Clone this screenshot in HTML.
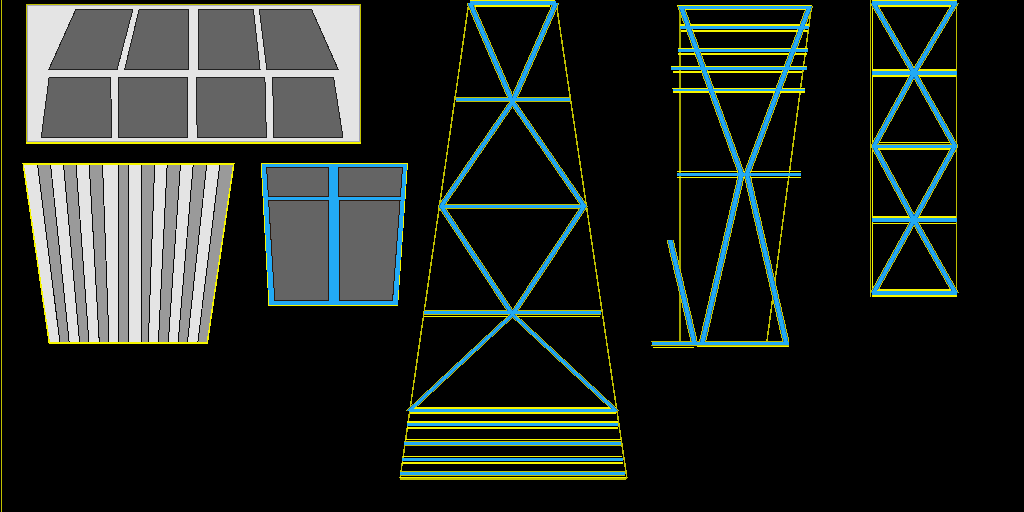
<!DOCTYPE html>
<html><head><meta charset="utf-8"><title>UV layout</title>
<style>html,body{margin:0;padding:0;background:#000;width:1024px;height:512px;overflow:hidden;font-family:"Liberation Sans",sans-serif}svg{display:block}</style>
</head><body>
<svg width="1024" height="512" viewBox="0 0 1024 512" shape-rendering="crispEdges">
<rect width="1024" height="512" fill="#000"/>
<rect x="1" y="0" width="1" height="512" fill="#c0c000"/>
<rect x="26" y="4" width="335" height="140" fill="#c0c000"/>
<rect x="26" y="142" width="335" height="2" fill="#f5f500"/>
<rect x="27" y="5" width="333" height="137" fill="#a8a8c0"/>
<rect x="28" y="6" width="331" height="135" fill="#e4e4e4"/>
<polygon points="76,9 133,9 117.25,69 49,69" fill="#646464" stroke="#202020" stroke-width="1" />
<polygon points="139.25,9 188.5,9 188.5,69 124.75,69" fill="#646464" stroke="#202020" stroke-width="1" />
<polygon points="198.5,9 253.3,9 260,69 198.5,69" fill="#646464" stroke="#202020" stroke-width="1" />
<polygon points="259.25,9 311.4,9 338,69 266.75,69" fill="#646464" stroke="#202020" stroke-width="1" />
<polygon points="49.2,77 110.7,77 111.6,137 41.3,137" fill="#646464" stroke="#202020" stroke-width="1" />
<polygon points="118.2,77 187,77 187,137 119,137" fill="#646464" stroke="#202020" stroke-width="1" />
<polygon points="196.3,77 264.9,77 266.4,137 197.2,137" fill="#646464" stroke="#202020" stroke-width="1" />
<polygon points="272.6,77 333.5,77 342.9,137 273.9,137" fill="#646464" stroke="#202020" stroke-width="1" />
<polygon points="23.5,164 233.5,164 207.1,342.5 49.5,342.5" fill="none" stroke="#f5f500" stroke-width="2" />
<polygon points="23.5,164 37.5,164 59.9,342.5 49.5,342.5" fill="#e4e4e4" stroke="none" stroke-width="1" />
<polygon points="37.5,164 50.5,164 69.2,342.5 59.9,342.5" fill="#9a9a9a" stroke="none" stroke-width="1" />
<polygon points="50.5,164 63.5,164 79.6,342.5 69.2,342.5" fill="#e4e4e4" stroke="none" stroke-width="1" />
<polygon points="63.5,164 76,164 88.9,342.5 79.6,342.5" fill="#9a9a9a" stroke="none" stroke-width="1" />
<polygon points="76,164 89.2,164 99.3,342.5 88.9,342.5" fill="#e4e4e4" stroke="none" stroke-width="1" />
<polygon points="89.2,164 102.5,164 109,342.5 99.3,342.5" fill="#9a9a9a" stroke="none" stroke-width="1" />
<polygon points="102.5,164 118.2,164 118.3,342.5 109,342.5" fill="#e4e4e4" stroke="none" stroke-width="1" />
<polygon points="118.2,164 128.7,164 128.7,342.5 118.3,342.5" fill="#9a9a9a" stroke="none" stroke-width="1" />
<polygon points="128.7,164 141.9,164 142,342.5 128.7,342.5" fill="#e4e4e4" stroke="none" stroke-width="1" />
<polygon points="141.9,164 154.7,164 148.3,342.5 142,342.5" fill="#9a9a9a" stroke="none" stroke-width="1" />
<polygon points="154.7,164 167.2,164 158.4,342.5 148.3,342.5" fill="#e4e4e4" stroke="none" stroke-width="1" />
<polygon points="167.2,164 180.5,164 168.3,342.5 158.4,342.5" fill="#9a9a9a" stroke="none" stroke-width="1" />
<polygon points="180.5,164 193.25,164 178.1,342.5 168.3,342.5" fill="#e4e4e4" stroke="none" stroke-width="1" />
<polygon points="193.25,164 206.75,164 187.4,342.5 178.1,342.5" fill="#9a9a9a" stroke="none" stroke-width="1" />
<polygon points="206.75,164 219.9,164 197.8,342.5 187.4,342.5" fill="#e4e4e4" stroke="none" stroke-width="1" />
<polygon points="219.9,164 233.5,164 207.1,342.5 197.8,342.5" fill="#9a9a9a" stroke="none" stroke-width="1" />
<line x1="37.5" y1="164" x2="59.9" y2="342.5" stroke="#080808" stroke-width="1" />
<line x1="50.5" y1="164" x2="69.2" y2="342.5" stroke="#080808" stroke-width="1" />
<line x1="63.5" y1="164" x2="79.6" y2="342.5" stroke="#080808" stroke-width="1" />
<line x1="76" y1="164" x2="88.9" y2="342.5" stroke="#080808" stroke-width="1" />
<line x1="89.2" y1="164" x2="99.3" y2="342.5" stroke="#080808" stroke-width="1" />
<line x1="102.5" y1="164" x2="109" y2="342.5" stroke="#080808" stroke-width="1" />
<line x1="118.2" y1="164" x2="118.3" y2="342.5" stroke="#080808" stroke-width="1" />
<line x1="128.7" y1="164" x2="128.7" y2="342.5" stroke="#080808" stroke-width="1" />
<line x1="141.9" y1="164" x2="142" y2="342.5" stroke="#080808" stroke-width="1" />
<line x1="154.7" y1="164" x2="148.3" y2="342.5" stroke="#080808" stroke-width="1" />
<line x1="167.2" y1="164" x2="158.4" y2="342.5" stroke="#080808" stroke-width="1" />
<line x1="180.5" y1="164" x2="168.3" y2="342.5" stroke="#080808" stroke-width="1" />
<line x1="193.25" y1="164" x2="178.1" y2="342.5" stroke="#080808" stroke-width="1" />
<line x1="206.75" y1="164" x2="187.4" y2="342.5" stroke="#080808" stroke-width="1" />
<line x1="219.9" y1="164" x2="197.8" y2="342.5" stroke="#080808" stroke-width="1" />
<polygon points="23.5,164 233.5,164 207.1,342.5 49.5,342.5" fill="none" stroke="#f5f500" stroke-width="1" />
<polygon points="260.7,163 408,163 398.1,306 268.5,306" fill="#f5f500" stroke="none" stroke-width="1" />
<polygon points="261.7,164 407,164 397.5,305 269.3,305" fill="#22aaf5" stroke="none" stroke-width="1" />
<polygon points="266.6,167.7 328.7,167.7 328.7,196.3 268.4,196.3" fill="#646464" stroke="#2a1a10" stroke-width="1" />
<polygon points="268.6,200.5 328.7,200.5 328.7,300 274.75,300" fill="#646464" stroke="#2a1a10" stroke-width="1" />
<polygon points="338.75,167.6 402.5,167.6 400.4,196.3 338.75,196.3" fill="#646464" stroke="#2a1a10" stroke-width="1" />
<polygon points="339,200.2 400.1,200.2 392.6,300 339,300" fill="#646464" stroke="#2a1a10" stroke-width="1" />
<line x1="468.5" y1="5" x2="400" y2="478.5" stroke="#c0c000" stroke-width="1.5" />
<line x1="556.5" y1="5" x2="627" y2="478.5" stroke="#c0c000" stroke-width="1.5" />
<rect x="679" y="10" width="2" height="331" fill="#a8a800"/>
<line x1="811" y1="10" x2="767" y2="341" stroke="#c0c000" stroke-width="1.5" />
<rect x="870" y="0" width="1" height="297" fill="#c0c000"/>
<rect x="872" y="0" width="1" height="297" fill="#f5f500"/>
<rect x="956" y="0" width="1" height="297" fill="#c0c000"/>
<polygon points="466.4,3 473.6,3 516.1,102 508.9,102" fill="#c8c800" stroke="none" stroke-width="1" />
<polygon points="508.9,102 516.1,102 559.6,3 552.4,3" fill="#c8c800" stroke="none" stroke-width="1" />
<polygon points="508.9,102 516.1,102 444.8,206.2 437.6,206.2" fill="#c8c800" stroke="none" stroke-width="1" />
<polygon points="437.6,206.2 444.8,206.2 516.2,314.5 509.0,314.5" fill="#c8c800" stroke="none" stroke-width="1" />
<polygon points="509.0,314.5 516.2,314.5 587.8,206.2 580.6,206.2" fill="#c8c800" stroke="none" stroke-width="1" />
<polygon points="580.6,206.2 587.8,206.2 516.1,102 508.9,102" fill="#c8c800" stroke="none" stroke-width="1" />
<polygon points="406.0,410.5 413.2,410.5 516.2,314.5 509.0,314.5" fill="#c8c800" stroke="none" stroke-width="1" />
<polygon points="509.0,314.5 516.2,314.5 619.3,410.5 612.1,410.5" fill="#c8c800" stroke="none" stroke-width="1" />
<polygon points="677.2,6 684.4,6 745.2,174 738.0,174" fill="#c8c800" stroke="none" stroke-width="1" />
<polygon points="738.0,174 745.2,174 706.1,342 698.9,342" fill="#c8c800" stroke="none" stroke-width="1" />
<polygon points="806.2,6 813.4,6 750.5,174 743.3,174" fill="#c8c800" stroke="none" stroke-width="1" />
<polygon points="743.3,174 750.5,174 789.6,342 782.4,342" fill="#c8c800" stroke="none" stroke-width="1" />
<polygon points="666.4,239.5 673.6,239.5 697.85,342 690.65,342" fill="#c8c800" stroke="none" stroke-width="1" />
<polygon points="869.9,3 877.1,3 917.6,73 910.4,73" fill="#c8c800" stroke="none" stroke-width="1" />
<polygon points="910.4,73 917.6,73 877.6,146 870.4,146" fill="#c8c800" stroke="none" stroke-width="1" />
<polygon points="870.4,146 877.6,146 917.6,220 910.4,220" fill="#c8c800" stroke="none" stroke-width="1" />
<polygon points="910.4,220 917.6,220 877.1,293 869.9,293" fill="#c8c800" stroke="none" stroke-width="1" />
<polygon points="951.9,3 959.1,3 917.6,73 910.4,73" fill="#c8c800" stroke="none" stroke-width="1" />
<polygon points="910.4,73 917.6,73 958.6,146 951.4,146" fill="#c8c800" stroke="none" stroke-width="1" />
<polygon points="951.4,146 958.6,146 917.6,220 910.4,220" fill="#c8c800" stroke="none" stroke-width="1" />
<polygon points="910.4,220 917.6,220 959.1,293 951.9,293" fill="#c8c800" stroke="none" stroke-width="1" />
<rect x="470" y="0" width="85" height="1" fill="#f5f500"/>
<rect x="475" y="5" width="75" height="2" fill="#f5f500"/>
<rect x="455.6" y="97" width="114.1" height="1" fill="#c0c000"/>
<rect x="455.6" y="101" width="114.1" height="1" fill="#c0c000"/>
<rect x="441.2" y="204" width="143.0" height="1" fill="#c0c000"/>
<rect x="441.2" y="208" width="143.0" height="1" fill="#c0c000"/>
<rect x="423.8" y="310" width="177.2" height="1" fill="#c0c000"/>
<rect x="423.8" y="314" width="177.2" height="1" fill="#c0c000"/>
<rect x="424" y="316" width="176" height="1" fill="#f5f500"/>
<rect x="409.6" y="407" width="206.1" height="2" fill="#f5f500"/>
<rect x="409.6" y="412" width="206.1" height="2" fill="#f5f500"/>
<rect x="406.8" y="421" width="211.6" height="2" fill="#f5f500"/>
<rect x="406.8" y="427" width="211.6" height="2" fill="#f5f500"/>
<rect x="404.5" y="439" width="216.0" height="1" fill="#f5f500"/>
<rect x="404" y="441" width="217.2" height="1" fill="#c0c000"/>
<rect x="404" y="445" width="217.2" height="1" fill="#c0c000"/>
<rect x="402.5" y="456" width="219.5" height="1" fill="#f5f500"/>
<rect x="402" y="462" width="220.5" height="2" fill="#f5f500"/>
<rect x="400.2" y="471" width="225.1" height="1" fill="#c0c000"/>
<rect x="400.2" y="475" width="225.1" height="1" fill="#c0c000"/>
<rect x="400" y="477" width="226" height="1" fill="#f5f500"/>
<rect x="400" y="478" width="226" height="2" fill="#c0c000"/>
<rect x="677.4" y="5" width="134.4" height="1" fill="#f5f500"/>
<rect x="679" y="9" width="131" height="1" fill="#f5f500"/>
<rect x="680" y="24" width="129" height="2" fill="#f5f500"/>
<rect x="681" y="30" width="127" height="2" fill="#f5f500"/>
<rect x="677.5" y="48" width="130.5" height="1" fill="#f5f500"/>
<rect x="678" y="53" width="129" height="2" fill="#f5f500"/>
<rect x="671.3" y="66" width="135.6" height="1" fill="#f5f500"/>
<rect x="672.5" y="71" width="129.5" height="2" fill="#f5f500"/>
<rect x="672" y="88" width="133.3" height="1" fill="#f5f500"/>
<rect x="673" y="91" width="132" height="2" fill="#f5f500"/>
<rect x="676.9" y="171" width="123.7" height="1" fill="#f5f500"/>
<rect x="676.9" y="177" width="123.7" height="1" fill="#f5f500"/>
<rect x="651.1" y="341" width="138.3" height="1" fill="#c0c000"/>
<rect x="651.1" y="345" width="138.3" height="1" fill="#c0c000"/>
<rect x="653" y="347" width="41" height="1" fill="#f5f500"/>
<rect x="697" y="346" width="92" height="1" fill="#f5f500"/>
<rect x="872" y="0" width="85" height="1" fill="#f5f500"/>
<rect x="877" y="5" width="75" height="2" fill="#f5f500"/>
<rect x="873" y="69" width="83" height="2" fill="#f5f500"/>
<rect x="873" y="75" width="83" height="2" fill="#f5f500"/>
<rect x="875" y="142" width="79" height="1" fill="#f5f500"/>
<rect x="873" y="144" width="83" height="1" fill="#c0c000"/>
<rect x="875" y="148" width="79" height="2" fill="#f5f500"/>
<rect x="873" y="216" width="83" height="2" fill="#f5f500"/>
<rect x="873" y="223" width="83" height="1" fill="#f5f500"/>
<rect x="872" y="289" width="85" height="2" fill="#f5f500"/>
<rect x="872" y="295" width="85" height="2" fill="#f5f500"/>
<polygon points="467.4,3 472.6,3 515.1,102 509.9,102" fill="#1270c0" stroke="none" stroke-width="1" />
<polygon points="509.9,102 515.1,102 558.6,3 553.4,3" fill="#1270c0" stroke="none" stroke-width="1" />
<polygon points="509.9,102 515.1,102 443.8,206.2 438.6,206.2" fill="#1270c0" stroke="none" stroke-width="1" />
<polygon points="438.6,206.2 443.8,206.2 515.2,314.5 510.0,314.5" fill="#1270c0" stroke="none" stroke-width="1" />
<polygon points="510.0,314.5 515.2,314.5 586.8,206.2 581.6,206.2" fill="#1270c0" stroke="none" stroke-width="1" />
<polygon points="581.6,206.2 586.8,206.2 515.1,102 509.9,102" fill="#1270c0" stroke="none" stroke-width="1" />
<polygon points="407.0,410.5 412.2,410.5 515.2,314.5 510.0,314.5" fill="#1270c0" stroke="none" stroke-width="1" />
<polygon points="510.0,314.5 515.2,314.5 618.3,410.5 613.1,410.5" fill="#1270c0" stroke="none" stroke-width="1" />
<polygon points="678.2,6 683.4,6 744.2,174 739.0,174" fill="#1270c0" stroke="none" stroke-width="1" />
<polygon points="739.0,174 744.2,174 705.1,342 699.9,342" fill="#1270c0" stroke="none" stroke-width="1" />
<polygon points="807.2,6 812.4,6 749.5,174 744.3,174" fill="#1270c0" stroke="none" stroke-width="1" />
<polygon points="744.3,174 749.5,174 788.6,342 783.4,342" fill="#1270c0" stroke="none" stroke-width="1" />
<polygon points="667.4,239.5 672.6,239.5 696.85,342 691.65,342" fill="#1270c0" stroke="none" stroke-width="1" />
<polygon points="870.9,3 876.1,3 916.6,73 911.4,73" fill="#1270c0" stroke="none" stroke-width="1" />
<polygon points="911.4,73 916.6,73 876.6,146 871.4,146" fill="#1270c0" stroke="none" stroke-width="1" />
<polygon points="871.4,146 876.6,146 916.6,220 911.4,220" fill="#1270c0" stroke="none" stroke-width="1" />
<polygon points="911.4,220 916.6,220 876.1,293 870.9,293" fill="#1270c0" stroke="none" stroke-width="1" />
<polygon points="952.9,3 958.1,3 916.6,73 911.4,73" fill="#1270c0" stroke="none" stroke-width="1" />
<polygon points="911.4,73 916.6,73 957.6,146 952.4,146" fill="#1270c0" stroke="none" stroke-width="1" />
<polygon points="952.4,146 957.6,146 916.6,220 911.4,220" fill="#1270c0" stroke="none" stroke-width="1" />
<polygon points="911.4,220 916.6,220 958.1,293 952.9,293" fill="#1270c0" stroke="none" stroke-width="1" />
<polygon points="468.2,3 471.8,3 514.3,102 510.7,102" fill="#22aaf5" stroke="none" stroke-width="1" />
<polygon points="510.7,102 514.3,102 557.8,3 554.2,3" fill="#22aaf5" stroke="none" stroke-width="1" />
<polygon points="510.7,102 514.3,102 443.0,206.2 439.4,206.2" fill="#22aaf5" stroke="none" stroke-width="1" />
<polygon points="439.4,206.2 443.0,206.2 514.4,314.5 510.8,314.5" fill="#22aaf5" stroke="none" stroke-width="1" />
<polygon points="510.8,314.5 514.4,314.5 586.0,206.2 582.4,206.2" fill="#22aaf5" stroke="none" stroke-width="1" />
<polygon points="582.4,206.2 586.0,206.2 514.3,102 510.7,102" fill="#22aaf5" stroke="none" stroke-width="1" />
<polygon points="407.8,410.5 411.4,410.5 514.4,314.5 510.8,314.5" fill="#22aaf5" stroke="none" stroke-width="1" />
<polygon points="510.8,314.5 514.4,314.5 617.5,410.5 613.9,410.5" fill="#22aaf5" stroke="none" stroke-width="1" />
<polygon points="679.0,6 682.6,6 743.4,174 739.8,174" fill="#22aaf5" stroke="none" stroke-width="1" />
<polygon points="739.8,174 743.4,174 704.3,342 700.7,342" fill="#22aaf5" stroke="none" stroke-width="1" />
<polygon points="808.0,6 811.6,6 748.7,174 745.1,174" fill="#22aaf5" stroke="none" stroke-width="1" />
<polygon points="745.1,174 748.7,174 787.8,342 784.2,342" fill="#22aaf5" stroke="none" stroke-width="1" />
<polygon points="668.2,239.5 671.8,239.5 696.05,342 692.45,342" fill="#22aaf5" stroke="none" stroke-width="1" />
<polygon points="871.7,3 875.3,3 915.8,73 912.2,73" fill="#22aaf5" stroke="none" stroke-width="1" />
<polygon points="912.2,73 915.8,73 875.8,146 872.2,146" fill="#22aaf5" stroke="none" stroke-width="1" />
<polygon points="872.2,146 875.8,146 915.8,220 912.2,220" fill="#22aaf5" stroke="none" stroke-width="1" />
<polygon points="912.2,220 915.8,220 875.3,293 871.7,293" fill="#22aaf5" stroke="none" stroke-width="1" />
<polygon points="953.7,3 957.3,3 915.8,73 912.2,73" fill="#22aaf5" stroke="none" stroke-width="1" />
<polygon points="912.2,73 915.8,73 956.8,146 953.2,146" fill="#22aaf5" stroke="none" stroke-width="1" />
<polygon points="953.2,146 956.8,146 915.8,220 912.2,220" fill="#22aaf5" stroke="none" stroke-width="1" />
<polygon points="912.2,220 915.8,220 957.3,293 953.7,293" fill="#22aaf5" stroke="none" stroke-width="1" />
<rect x="470" y="1" width="86" height="4" fill="#22aaf5"/>
<rect x="455.6" y="98" width="114.1" height="3" fill="#22aaf5"/>
<rect x="441.2" y="205" width="143.0" height="3" fill="#22aaf5"/>
<rect x="423.8" y="311" width="177.2" height="3" fill="#22aaf5"/>
<rect x="409.6" y="409" width="206.1" height="3" fill="#22aaf5"/>
<rect x="406.8" y="423" width="211.6" height="3" fill="#22aaf5"/>
<rect x="404" y="442" width="217.2" height="3" fill="#22aaf5"/>
<rect x="401.8" y="458" width="221.0" height="3" fill="#22aaf5"/>
<rect x="400.2" y="472" width="225.1" height="3" fill="#22aaf5"/>
<rect x="679" y="6" width="131.25" height="3" fill="#22aaf5"/>
<rect x="680" y="26" width="129" height="3" fill="#22aaf5"/>
<rect x="677.5" y="49" width="130.5" height="3" fill="#22aaf5"/>
<rect x="671.3" y="67" width="135.6" height="3" fill="#22aaf5"/>
<rect x="673" y="89" width="132.3" height="2" fill="#22aaf5"/>
<rect x="676.9" y="173" width="123.7" height="3" fill="#22aaf5"/>
<rect x="652" y="342" width="137.4" height="3" fill="#22aaf5"/>
<rect x="872" y="1" width="85" height="4" fill="#22aaf5"/>
<rect x="872" y="71" width="85" height="4" fill="#22aaf5"/>
<rect x="872" y="145" width="85" height="3" fill="#22aaf5"/>
<rect x="872" y="218" width="85" height="4" fill="#22aaf5"/>
<rect x="872" y="291" width="85" height="4" fill="#22aaf5"/>
</svg>
</body></html>
